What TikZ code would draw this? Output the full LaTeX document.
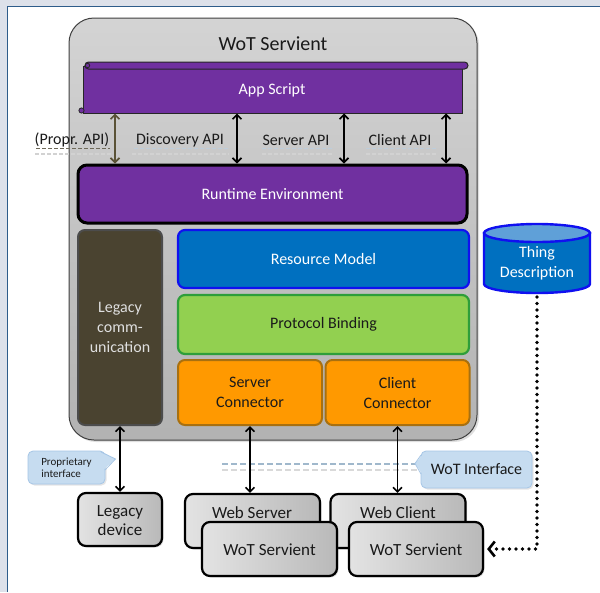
\documentclass[tikz,border=0pt]{standalone}
\usepackage{fontspec}
\setmainfont{Carlito}
\usetikzlibrary{arrows.meta,shadows,calc}
\definecolor{bgband}{HTML}{DDE1EA}
\definecolor{frameblue}{HTML}{2E5C8A}
\definecolor{appurple}{HTML}{7030A0}
\definecolor{rmblue}{HTML}{0070C0}
\definecolor{rmborder}{HTML}{1010F0}
\definecolor{pbgreen}{HTML}{92D050}
\definecolor{pbborder}{HTML}{2E9E3A}
\definecolor{orng}{HTML}{FF9900}
\definecolor{orngborder}{HTML}{A87010}
\definecolor{olive}{HTML}{4A4330}
\definecolor{olivearrow}{HTML}{5A5236}
\definecolor{tdtop}{HTML}{5FA0D8}
\definecolor{callblue}{HTML}{C6DCF0}
\definecolor{callborder}{HTML}{A6C6E6}
\definecolor{dashblue}{HTML}{A0B8CC}
\definecolor{txt}{HTML}{1A1A1A}
\tikzset{
  layer/.style={rounded corners=7pt, line width=2.2pt, font=\fontsize{16}{20}\selectfont, align=center},
  devbox/.style={draw=black, line width=2.2pt, rounded corners=8pt, left color=gray!22, right color=gray!55,
    drop shadow={opacity=0.25, shadow xshift=1.5pt, shadow yshift=-1.5pt}},
  devtxt/.style={font=\fontsize{17}{19}\selectfont, text=txt, align=center},
  dar/.style={line width=1.6pt, {Straight Barb[length=4.5pt,width=9pt]}-{Straight Barb[length=4.5pt,width=9pt]}},
  apilbl/.style={font=\fontsize{16}{18}\selectfont, text=txt},
  calloutbox/.style={fill=callblue, draw=callborder, line width=0.8pt, rounded corners=5pt,
    drop shadow={opacity=0.2, shadow xshift=1.5pt, shadow yshift=-1.5pt}},
  uline/.style={line width=1.4pt, dash pattern=on 4pt off 2pt},
  dotline/.style={line width=3.8pt, dash pattern=on 0pt off 6.5pt, line cap=round,
    -{Straight Barb[length=6pt,width=15pt,line width=2.6pt]}}
}
\begin{document}
\begin{tikzpicture}[x=1pt,y=-1pt]
\useasboundingbox (0,0) rectangle (600,592);
% slide background
\fill[bgband] (0,0) rectangle (600,592);
\fill[white] (7.5,6.5) rectangle (600,592);
\draw[frameblue, line width=1.6pt] (7.5,592) -- (7.5,6.5) -- (600,6.5);

% main servient box
\node[draw=black!75, line width=1pt, rounded corners=25pt, minimum width=408pt, minimum height=422pt,
  shading=axis, shading angle=30, top color=gray!34, bottom color=gray!60,
  drop shadow={opacity=0.25, shadow xshift=2pt, shadow yshift=-2pt}] (main) at (273,229) {};
\node[font=\fontsize{20}{22}\selectfont, text=txt] (title) at (273,44) {WoT Servient};

% App script scroll
\node[fill=appurple, draw=black!85, line width=1pt, minimum width=379pt, minimum height=47pt] (asc) at (272.5,89.5) {};
\draw[fill=appurple, draw=black!85, line width=1pt, rounded corners=3.5pt] (85,62) rectangle (468,69);
\draw[draw=black!85, line width=0.8pt, fill=appurple] (87.5,65.5) circle (2.2pt);
\draw[draw=black!85, line width=0.8pt, fill=appurple] (81.5,110.5) circle (2.6pt);
\node[font=\fontsize{16}{18}\selectfont, text=white] (asct) at (272,90) {App Script};

% Runtime
\node[layer, fill=appurple, draw=black, line width=3pt, rounded corners=9pt, minimum width=389pt, minimum height=58pt, text=white] (rt) at (272.5,194) {Runtime Environment};

% API arrows
\draw[dar, draw=olivearrow] (115,0 |- asc.south) -- (115,0 |- rt.north);
\draw[dar] (237,0 |- asc.south) -- (237,0 |- rt.north);
\draw[dar] (344,0 |- asc.south) -- (344,0 |- rt.north);
\draw[dar] (446,0 |- asc.south) -- (446,0 |- rt.north);

% API labels with underline decoration
\draw[uline, draw=gray!35] (35,154) -- (111,154);
\draw[uline, draw=gray!35] (132,154) -- (229,154);
\draw[uline, draw=gray!35] (262,154) -- (333,154);
\draw[uline, draw=gray!35] (366,154) -- (436,154);
\draw[uline, draw=olive!80, line width=1.6pt] (36,148.5) -- (110,148.5);
\draw[uline, draw=dashblue!70] (134,148.5) -- (229,148.5);
\draw[uline, draw=dashblue!70] (262,148.5) -- (333,148.5);
\draw[uline, draw=dashblue!70] (366,148.5) -- (436,148.5);
\node[apilbl] (lprop) at (72,140) {(Propr. API)};
\node[apilbl] (ldisc) at (180,140) {Discovery API};
\node[apilbl] (lserv) at (296,140) {Server API};
\node[apilbl] (lcli) at (400,140) {Client API};

% inner layers
\node[layer, fill=olive, draw=black!70, line width=2pt, minimum width=84pt, minimum height=195pt, text=gray!25] (lc) at (120,327.5) {Legacy\\comm-\\unication};
\node[layer, fill=rmblue, draw=rmborder, minimum width=291pt, minimum height=58pt, text=white] (rm) at (323.5,259) {Resource Model};
\node[layer, fill=pbgreen, draw=pbborder, minimum width=291pt, minimum height=59pt, text=txt] (pb) at (323.5,324.5) {Protocol Binding};
\node[layer, fill=orng, draw=orngborder, line width=2pt, minimum width=144pt, minimum height=65pt, text=txt] (sc) at (250,392.5) {Server\\Connector};
\node[layer, fill=orng, draw=orngborder, line width=2pt, minimum width=144pt, minimum height=65pt, text=txt] (cc) at (397.5,392.5) {Client\\Connector};

% Thing description cylinder
\draw[fill=rmblue, draw=rmborder, line width=2.4pt] (484,233) -- (484,284) arc[start angle=180, end angle=360, x radius=53pt, y radius=9pt] -- (590,233) -- cycle;
\draw[fill=tdtop, draw=rmborder, line width=2.4pt] (537,233) ellipse [x radius=53pt, y radius=9pt];
\node[font=\fontsize{16}{20}\selectfont, text=white, align=center] (td) at (537,263) {Thing\\Description};
\coordinate (tdb) at (537,297);

% devices
\node[devbox, minimum width=84pt, minimum height=53pt] (ld) at (120,519.5) {};
\node[devtxt] (ldt) at (120,521) {Legacy\\device};
\node[devbox, minimum width=135pt, minimum height=54pt] (ws) at (252.5,521) {};
\node[devtxt] (wst) at (252,513) {Web Server};
\node[devbox, minimum width=135pt, minimum height=54pt] (wc) at (398,521) {};
\node[devtxt] (wct) at (398,513) {Web Client};
\node[devbox, minimum width=135pt, minimum height=54pt] (ws1) at (269.5,549) {};
\node[devtxt] (ws1t) at (269.5,550) {WoT Servient};
\node[devbox, minimum width=134pt, minimum height=54pt] (ws2) at (416,549) {};
\node[devtxt] (ws2t) at (416,550) {WoT Servient};

% WoT interface dashed line
\draw[uline, draw=gray!30, line width=2pt, dash pattern=on 6pt off 3pt] (222,470) -- (418,470);
\draw[uline, draw=dashblue, line width=2pt, dash pattern=on 6pt off 3pt] (222,464) -- (418,464);

% device arrows
\draw[dar] (lc.south) -- (ld.north);
\draw[dar] (sc.south) -- (sc.south |- ws.north);
\draw[dar] (cc.south) -- (cc.south |- wc.north);

% callouts
\node[calloutbox, minimum width=77pt, minimum height=33pt, font=\fontsize{11}{12}\selectfont, text=txt, align=left] (pi) at (66.5,467.5) {Proprietary\\interface};
\fill[callblue] (103,452.5) -- (115.5,459) -- (103,470) -- cycle;
\draw[callborder, line width=0.8pt] (101,452) -- (115.5,459) -- (105,470);
\node[calloutbox, minimum width=111pt, minimum height=37pt, font=\fontsize{16}{18}\selectfont, text=txt] (wi) at (476.5,469.5) {WoT Interface};
\fill[callblue] (422.5,455) -- (415,463.5) -- (422.5,474) -- cycle;
\draw[callborder, line width=0.8pt] (421,455) -- (415,463.5) -- (421,474);

% dotted link
\draw[dotline, shorten >=3pt] (tdb) -- (tdb |- ws2.east) -- (ws2.east);
\end{tikzpicture}
\end{document}
